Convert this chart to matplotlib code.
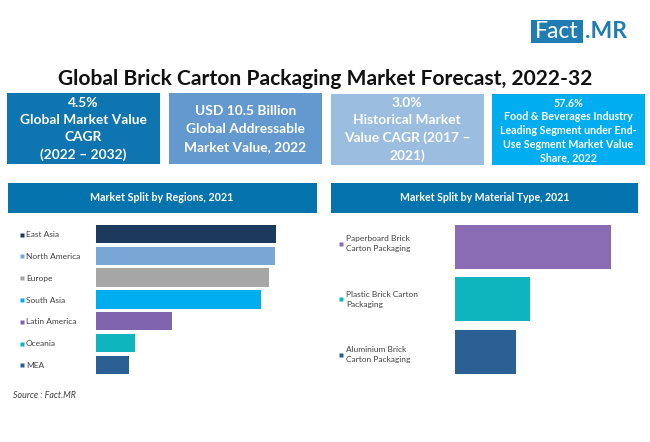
#!/usr/bin/env python3
# -*- coding: utf-8 -*-

import matplotlib
matplotlib.use("Agg")
import matplotlib.pyplot as plt
from matplotlib.patches import Rectangle
from matplotlib.transforms import blended_transform_factory

W, H = 650, 442

# ---------- Data ----------
regions = ["East Asia", "North America", "Europe", "South Asia",
           "Latin America", "Oceania", "MEA"]
region_share = [21.33, 21.27, 20.44, 19.55, 9.03, 4.52, 3.86]
region_colors = ["#1B3A5C", "#7AA6D6", "#A6A6A6", "#00AEEF",
                 "#8064AE", "#0FB5BE", "#2C5F93"]

materials = ["Paperboard Brick\nCarton Packaging",
             "Plastic Brick Carton\nPackaging",
             "Aluminium Brick\nCarton Packaging"]
material_share = [53.4, 25.6, 21.0]
material_colors = ["#8A6CB4", "#0FB5BE", "#2C5F93"]

card_texts = ["4.5%\nGlobal Market Value\nCAGR\n(2022 – 2032)",
              "USD 10.5 Billion\nGlobal Addressable\nMarket Value, 2022",
              "3.0%\nHistorical Market\nValue CAGR (2017 –\n2021)",
              "57.6%\nFood & Beverages Industry\nLeading Segment under End-\nUse Segment Market Value\nShare, 2022"]
card_colors = ["#0F75B0", "#6499CF", "#9BBDE0", "#00AEEF"]

title = "Global Brick Carton Packaging Market Forecast, 2022-32"
header_left = "Market Split by Regions, 2021"
header_right = "Market Split by Material Type, 2021"

plt.rcParams["font.family"] = ["Lato", "DejaVu Sans"]

fig = plt.figure(figsize=(W / 100, H / 100), dpi=100, facecolor="white")


# ---------- Pixel helpers ----------
def fx(x):
    return x / W


def fy(y):
    return 1 - y / H


def px_box(x0, y0, x1, y1, color):
    fig.add_artist(Rectangle((fx(x0), fy(y1)), (x1 - x0) / W, (y1 - y0) / H,
                             transform=fig.transFigure, fc=color, ec="none"))


def px_text(x, y, s, **kw):
    kw.setdefault("ha", "center")
    kw.setdefault("va", "center")
    fig.text(fx(x), fy(y), s, **kw)


def bar_panel(x0, y0, x1, y1, labels, values, colors, bar_h, marker_x, text_x,
              label_shift):
    ax = fig.add_axes([fx(x0), fy(y1), (x1 - x0) / W, (y1 - y0) / H])
    pos = list(range(len(values)))
    ax.barh(pos, values, height=bar_h, color=colors)
    ax.set_xlim(0, max(values))
    ax.set_ylim(len(values) - 0.5, -0.5)
    ax.axis("off")
    # category labels sit left of the bars, with a small colour square
    trans = blended_transform_factory(fig.transFigure, ax.transData)
    for p, lab, col, shift in zip(pos, labels, colors, label_shift):
        ax.plot([fx(marker_x)], [p + shift], marker="s", ms=3.5, color=col,
                mec="none", transform=trans, clip_on=False)
        ax.text(fx(text_x), p + shift, lab, transform=trans, fontsize=6.0,
                color="#404040", va="center", ha="left", linespacing=1.5,
                clip_on=False)
    return ax


# ---------- Logo & title ----------
px_box(531, 20, 582.5, 42.7, "#1F7DB4")
px_text(556.5, 31.5, "Fact", color="white", fontsize=16.5)
px_text(585, 31.5, ".MR", ha="left", color="#1F7DB4", fontsize=16.5,
        fontweight="bold")

px_text(325, 79, title, fontsize=15.1, fontweight="bold", color="#111111")

# ---------- KPI cards ----------
card_x = [(7, 160), (168.5, 322), (330.7, 483.7), (492, 645)]
card_y = [(93, 164), (93, 164), (94, 165), (94, 165)]
card_mid = [129, 129, 129.5, 130.5]
card_sizes = [9.9, 9.9, 9.9, 7.7]
card_spacing = [1.53, 1.58, 1.5, 1.3]
for i, txt in enumerate(card_texts):
    x0, x1 = card_x[i]
    y0, y1 = card_y[i]
    px_box(x0, y0, x1, y1, card_colors[i])
    px_text((x0 + x1) / 2, card_mid[i], txt, color="white",
            fontsize=card_sizes[i], fontweight="bold",
            linespacing=card_spacing[i])

# ---------- Section headers ----------
px_box(8, 183, 317, 212.5, "#0573AE")
px_box(331, 183, 638, 212.5, "#0573AE")
px_text(162, 198, header_left, color="white", fontsize=7.7, fontweight="bold")
px_text(484.5, 198, header_right, color="white", fontsize=7.6, fontweight="bold")

# ---------- Bars ----------
bar_panel(96.5, 223.1, 276, 375.7, regions, region_share, region_colors,
          0.85, 21.5, 26, [0.03] * 7)
bar_panel(455, 220.4, 610.5, 378.4, materials, material_share, material_colors,
          0.835, 341, 346, [-0.06, 0.0, 0.05])

px_text(13, 395, "Source : Fact.MR", ha="left", fontsize=6.4, style="italic",
        color="#404040")

fig.savefig("out.png", dpi=100)
